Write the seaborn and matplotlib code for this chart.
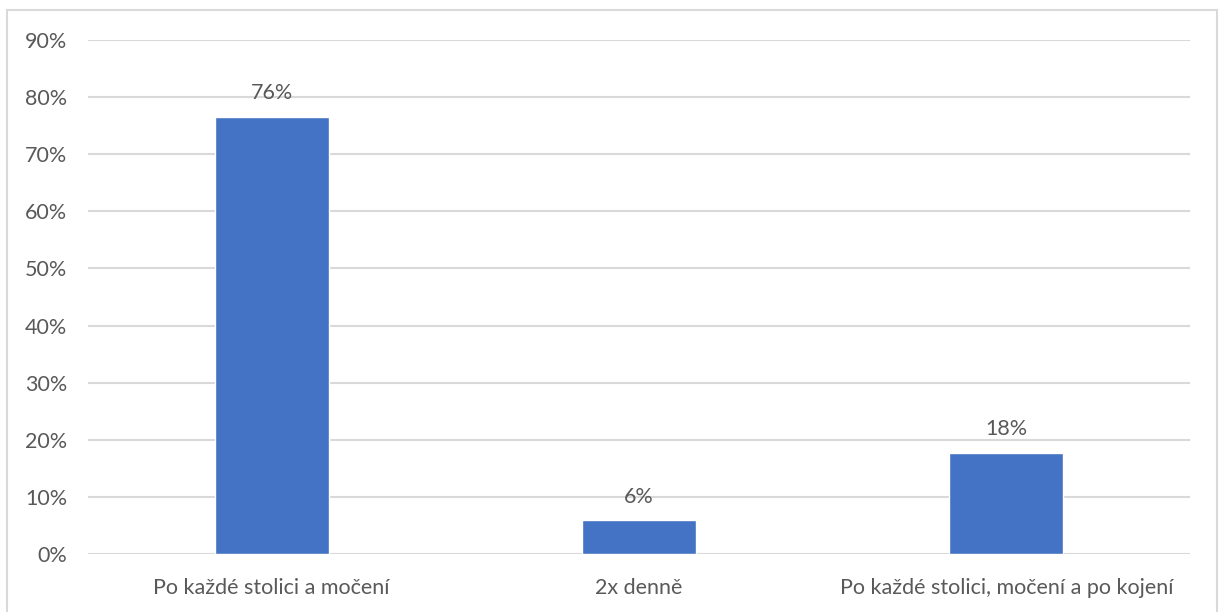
import matplotlib
matplotlib.use("Agg")
import matplotlib.pyplot as plt
import matplotlib.patches as mpatches
from matplotlib.ticker import FuncFormatter, MultipleLocator
import seaborn as sns
import pandas as pd

categories = ["Po každé stolici a močení", "2x denně", "Po každé stolici, močení a po kojení"]
shares = [13 / 17, 1 / 17, 3 / 17]
value_labels = ["76%", "6%", "18%"]

sns.set_theme(style="white")
plt.rcParams["font.family"] = ["Lato", "DejaVu Sans"]

text_color = "#595959"
grid_color = "#d9d9d9"
bar_color = "#4472c4"

df = pd.DataFrame({"category": categories, "share": shares})

fig = plt.figure(figsize=(12.22, 6.12), dpi=100)
ax = fig.add_axes([88 / 1222, 1 - 554 / 612, (1190 - 88) / 1222, (554 - 40) / 612])

sns.barplot(data=df, x="category", y="share", color=bar_color, width=0.31,
            saturation=1, ax=ax, zorder=3)

ax.set_ylim(0, 0.9)
ax.yaxis.set_major_locator(MultipleLocator(0.1))
ax.yaxis.set_major_formatter(FuncFormatter(lambda v, _: f"{v * 100:.0f}%"))
ax.grid(axis="y", color=grid_color, linewidth=1.5, zorder=0)
ax.set_axisbelow(True)
for s in ax.spines.values():
    s.set_visible(False)
ax.set_xlabel("")
ax.set_ylabel("")
ax.tick_params(axis="both", length=0, labelsize=15.5, colors=text_color)
ax.tick_params(axis="x", pad=17)
ax.tick_params(axis="y", pad=15)

for patch, lab in zip(ax.patches, value_labels):
    ax.annotate(lab, (patch.get_x() + patch.get_width() / 2, patch.get_height()),
                xytext=(0, 10), textcoords="offset points", ha="center", va="bottom",
                fontsize=15.5, color=text_color)

# chart area frame
fig.patches.append(mpatches.Rectangle((7 / 1222, -0.05), 1210 / 1222, 1 - 10 / 612 + 0.05,
                                      transform=fig.transFigure, fill=False,
                                      edgecolor=grid_color, linewidth=1.5))

fig.savefig("out.png", dpi=100, facecolor="white")
